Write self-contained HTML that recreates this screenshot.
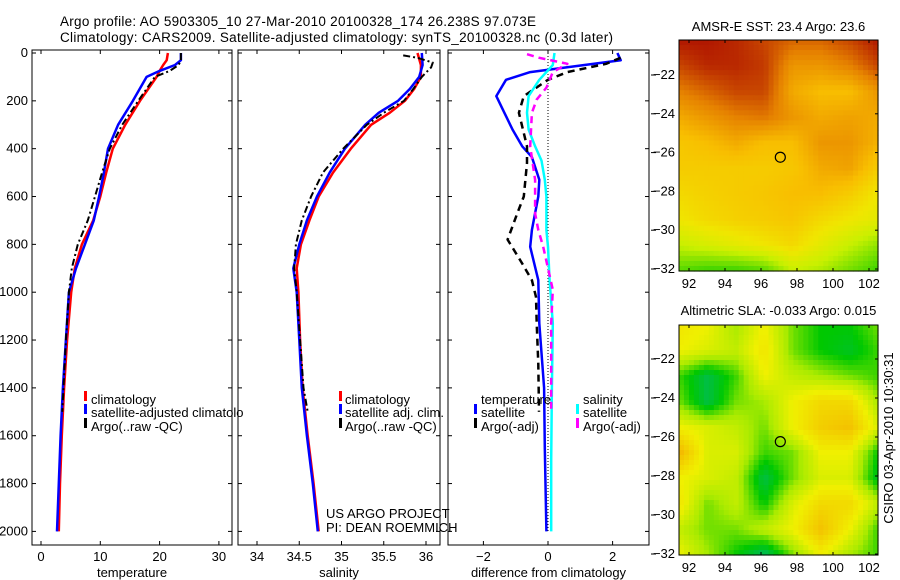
<!DOCTYPE html>
<html><head><meta charset="utf-8"><style>
body{margin:0;background:#fff}
svg{display:block;font-family:"Liberation Sans",sans-serif}
</style></head><body>
<svg id="fig" width="900" height="580" viewBox="0 0 900 580">
<text x="60" y="26" font-size="13.5" textLength="476">Argo profile: AO 5903305_10 27-Mar-2010 20100328_174 26.238S 97.073E</text>
<text x="60" y="42" font-size="13.5" textLength="553">Climatology: CARS2009. Satellite-adjusted climatology: synTS_20100328.nc (0.3d later)</text>
<g id="g"></g>
<text transform="translate(893,438) rotate(-90)" text-anchor="middle" font-size="13">CSIRO 03-Apr-2010 10:30:31</text>
</svg>
<script>
// ---------- data ----------
const depthT = [0,30,50,75,100,200,300,400,500,600,700,800,900,1000,1200,1400,1600,1800,2000];
const tempClim = [21.4,21.2,20.6,20.0,19.5,16.7,14.2,12.1,11.0,10.0,8.8,6.9,5.7,5.1,4.4,3.9,3.5,3.2,3.0];
const tempSat = [23.6,23.6,22.6,20.0,17.8,15.5,13.0,11.3,10.6,9.8,8.9,7.4,5.9,4.7,4.2,3.7,3.3,3.0,2.7];
const depthArgo = [0,30,50,75,100,200,300,400,500,600,700,800,900,1000,1200,1400,1500];
const tempArgo = [23.6,23.6,23.2,21.7,19.2,16.4,13.7,11.6,10.3,9.1,7.9,6.2,5.2,4.7,4.2,3.8,3.6];
const depthS = [0,50,100,150,200,250,300,400,500,600,700,800,900,1000,1200,1400,1600,1800,2000];
const salClim = [35.9,35.94,35.94,35.86,35.75,35.57,35.35,35.11,34.9,34.73,34.62,34.52,34.47,34.49,34.51,34.54,34.6,34.67,34.73];
const salSat = [35.95,35.96,35.92,35.81,35.67,35.44,35.28,35.04,34.86,34.71,34.59,34.5,34.43,34.47,34.5,34.53,34.59,34.66,34.72];
const depthSA = [10,20,40,60,100,150,200,250,300,400,500,600,700,800,900,1000,1200,1400,1500];
const salArgo = [35.73,35.9,36.08,36.06,35.95,35.85,35.74,35.5,35.3,35.02,34.78,34.64,34.53,34.46,34.44,34.47,34.51,34.55,34.6];
const depthD = [0,30,80,112,180,250,320,390,435,530,600,740,810,950,1130,1400,1650,2000];
const diffTSat = [2.15,2.25,-0.55,-1.3,-1.6,-1.35,-1.1,-0.8,-0.5,-0.27,-0.3,-0.5,-0.55,-0.3,-0.27,-0.12,-0.1,-0.05];
const depthDA = [20,45,80,112,180,250,390,460,600,670,780,880,950,1020,1130,1300,1500];
const diffTArgo = [2.25,1.8,0.6,0,-0.75,-0.9,-0.65,-0.65,-0.75,-0.95,-1.25,-0.8,-0.5,-0.37,-0.35,-0.3,-0.28];
const depthDS = [0,50,80,112,180,250,320,390,450,530,600,740,810,950,1130,1400,1700,2000];
const diffSSat = [0.2,0.15,-0.05,-0.27,-0.6,-0.65,-0.6,-0.4,-0.2,-0.1,-0.05,-0.05,0,0.05,0.15,0.12,0.1,0.1];
const depthDSA = [5,20,45,80,145,195,250,390,530,670,740,810,990,1130,1300,1500];
const diffSArgo = [-0.65,-0.27,0.6,0.15,-0.05,-0.35,-0.5,-0.55,-0.4,-0.4,-0.3,-0.15,0.15,0.1,0.1,0.1];
const tempTicks = [0,10,20,30];
const salTicks = [34,34.5,35,35.5,36];
const diffTicks = [-2,0,2];
const depthTicks = [0,200,400,600,800,1000,1200,1400,1600,1800,2000];
const sstGrid = [
[.98,.98,.95,.9,.85,.85,.9,.98],
[.9,.95,.95,.92,.75,.75,.8,.9],
[.8,.85,.9,.9,.7,.65,.65,.75],
[.7,.75,.8,.82,.75,.7,.72,.7],
[.62,.65,.7,.65,.65,.75,.75,.68],
[.6,.6,.6,.6,.62,.7,.72,.6],
[.55,.58,.6,.62,.65,.65,.6,.5],
[.5,.55,.58,.6,.62,.55,.5,.45],
[.35,.4,.45,.5,.55,.45,.35,.25],
[.15,.1,.1,.15,.35,.3,.2,.1]];
const slaGrid = [
[.55,.5,.35,.5,.3,.2,.2,.3],
[.5,.45,.4,.55,.3,.2,.15,.25],
[.25,.1,.25,.5,.4,.35,.3,.25],
[.3,.1,.3,.35,.5,.6,.6,.35],
[.5,.45,.4,.3,.5,.65,.7,.45],
[.75,.45,.45,.25,.3,.5,.5,.2],
[.5,.45,.4,.1,.3,.45,.45,.15],
[.55,.3,.4,.2,.45,.6,.6,.4],
[.4,.3,.3,.4,.5,.7,.5,.25],
[.5,.35,.2,.05,.3,.5,.35,.25]];
const lonTicks = [92,94,96,98,100,102];
const latTicks = [-22,-24,-26,-28,-30,-32];

// ---------- helpers ----------
const NS="http://www.w3.org/2000/svg";
const G=document.getElementById('g');
function mk(tag,attrs,parent){const e=document.createElementNS(NS,tag);for(const k in attrs)e.setAttribute(k,attrs[k]);(parent||G).appendChild(e);return e;}
const yD = d => 53 + d*0.2392;
const xT = v => 41 + v*5.93;
const xS = v => 257 + (v-34)*84.5;
const xDf = v => 548 + v*32.3;
const FS = 13;

function line(xs,ys,xf,col,w,dash,name){
  const pts=xs.map((v,i)=>xf(v).toFixed(1)+','+yD(ys[i]).toFixed(1)).join(' ');
  const p=mk('polyline',{points:pts,fill:'none',stroke:col,'stroke-width':w,'stroke-linejoin':'round'});
  if(dash)p.setAttribute('stroke-dasharray',dash);
  
  
}
function txt(x,y,s,anchor,size,name){
  const t=mk('text',{x:x,y:y,'font-size':size||FS,'text-anchor':anchor||'start'});
  t.textContent=s;
  
  
  return t;
}
function panel(x0,x1,ticks,xf,fmt,label,name,showDepth){
  const r=mk('rect',{x:x0,y:50,width:x1-x0,height:495,fill:'none',stroke:'#000','stroke-width':1});
  
  
  ticks.forEach(v=>{const x=xf(v);
    mk('line',{x1:x,x2:x,y1:545,y2:541,stroke:'#000'});
    mk('line',{x1:x,x2:x,y1:50,y2:54,stroke:'#000'});
    txt(x,561,fmt(v),'middle',FS,name+'-x-tick');});
  depthTicks.forEach(d=>{const y=yD(d);
    mk('line',{x1:x0,x2:x0+4,y1:y,y2:y,stroke:'#000'});
    mk('line',{x1:x1,x2:x1-4,y1:y,y2:y,stroke:'#000'});
    if(showDepth) txt(28,y+4,String(d),'end',FS,'depth-tick-label');});
  txt((x0+x1)/2,577,label,'middle',FS,name+'-x-title');
}
function legMark(x,y,col,name){const r=mk('rect',{x:x,y:y-9,width:3,height:10,fill:col});
  
  }

// ---------- panel 1 ----------
panel(32,232,tempTicks,xT,v=>String(v),'temperature','temperature-panel',true);
line(tempClim,depthT,xT,'#f00',2.5,null,'temperature-climatology-line');
line(tempSat,depthT,xT,'#00f',2.5,null,'temperature-satellite-line');
line(tempArgo,depthArgo,xT,'#000',2,'7,3,2,3','temperature-argo-line');
legMark(84,400,'#f00','legend-climatology-marker');txt(91,404,'climatology','start',FS,'legend-climatology');
legMark(84,413,'#00f','legend-satellite-marker');txt(91,417,'satellite-adjusted climatolo','start',FS,'legend-satellite');
legMark(84,427,'#000','legend-argo-marker');txt(91,431,'Argo(..raw -QC)','start',FS,'legend-argo');

// ---------- panel 2 ----------
panel(238,440,salTicks,xS,v=>String(v),'salinity','salinity-panel',false);
line(salClim,depthS,xS,'#f00',2.5,null,'salinity-climatology-line');
line(salSat,depthS,xS,'#00f',2.5,null,'salinity-satellite-line');
line(salArgo,depthSA,xS,'#000',2,'7,3,2,3','salinity-argo-line');
legMark(339,400,'#f00','legend2-climatology-marker');txt(345,404,'climatology','start',FS,'legend2-climatology');
legMark(339,413,'#00f','legend2-satellite-marker');txt(345,417,'satellite adj. clim.','start',FS,'legend2-satellite');
legMark(339,427,'#000','legend2-argo-marker');txt(345,431,'Argo(..raw -QC)','start',FS,'legend2-argo');
txt(326,518,'US ARGO PROJECT','start',FS,'project-credit');
txt(326,532,'PI: DEAN ROEMMICH','start',FS,'pi-credit');

// ---------- panel 3 ----------
panel(448,649,diffTicks,xDf,v=>v<0?'\u2212'+(-v):String(v),'difference from climatology','difference-panel',false);
mk('line',{x1:xDf(0),x2:xDf(0),y1:53,y2:yD(2000),stroke:'#000','stroke-dasharray':'1,2'});
line(diffTSat,depthD,xDf,'#00f',2.5,null,'diff-temperature-satellite-line');
line(diffTArgo,depthDA,xDf,'#000',2.5,'7,5','diff-temperature-argo-line');
line(diffSSat,depthDS,xDf,'#0ff',2.5,null,'diff-salinity-satellite-line');
line(diffSArgo,depthDSA,xDf,'#f0f',2.5,'7,5','diff-salinity-argo-line');
txt(481,404,'temperature','start',FS,'legend3-temperature-heading');
txt(583,404,'salinity','start',FS,'legend3-salinity-heading');
legMark(474,413,'#00f','legend3-temp-satellite-marker');txt(481,417,'satellite','start',FS,'legend3-temp-satellite');
legMark(474,427,'#000','legend3-temp-argo-marker');txt(481,431,'Argo(-adj)','start',FS,'legend3-temp-argo');
legMark(576,413,'#0ff','legend3-sal-satellite-marker');txt(583,417,'satellite','start',FS,'legend3-sal-satellite');
legMark(576,427,'#f0f','legend3-sal-argo-marker');txt(583,431,'Argo(-adj)','start',FS,'legend3-sal-argo');

// ---------- maps ----------
function lerpC(stops,v){for(let i=1;i<stops.length;i++){if(v<=stops[i][0]){const a=stops[i-1],b=stops[i],t=(v-a[0])/(b[0]-a[0]);
  return 'rgb('+[1,2,3].map(k=>Math.round(a[k]+(b[k]-a[k])*t)).join(',')+')';}}const l=stops[stops.length-1];return 'rgb('+l[1]+','+l[2]+','+l[3]+')';}
const sstStops=[[0,0,200,0],[0.35,200,240,0],[0.5,240,230,0],[0.65,248,190,0],[0.8,230,130,0],[1,170,10,0]];
const slaStops=[[0,0,180,140],[0.2,0,200,0],[0.35,170,235,0],[0.5,240,240,0],[0.8,245,170,0],[1,230,100,0]];
function map(x0,y0,w,h,grid,stops,title,ty,name,latTop,latBot){
  const nx=40,ny=46,R=grid.length,C=grid[0].length;
  const cw=w/nx,ch=h/ny;
  const gm=mk('g',{});
  
  
  for(let j=0;j<ny;j++)for(let i=0;i<nx;i++){
    const fx=(i+0.5)/nx*(C-1),fy=(j+0.5)/ny*(R-1);
    const ix=Math.min(Math.floor(fx),C-2),iy=Math.min(Math.floor(fy),R-2),tx=fx-ix,ty2=fy-iy;
    const v=grid[iy][ix]*(1-tx)*(1-ty2)+grid[iy][ix+1]*tx*(1-ty2)+grid[iy+1][ix]*(1-tx)*ty2+grid[iy+1][ix+1]*tx*ty2;
    mk('rect',{x:(x0+i*cw).toFixed(2),y:(y0+j*ch).toFixed(2),width:(cw+0.6).toFixed(2),height:(ch+0.6).toFixed(2),fill:lerpC(stops,v)},gm);
  }
  const f=mk('rect',{x:x0,y:y0,width:w,height:h,fill:'none',stroke:'#000'});
  
  
  const xL=v=>x0+10+(v-92)*18, yL=v=>latTop+(-22-v)*(latBot-latTop)/10;
  lonTicks.forEach(v=>{const x=xL(v);mk('line',{x1:x,x2:x,y1:y0+h,y2:y0+h-3,stroke:'#000'});mk('line',{x1:x,x2:x,y1:y0,y2:y0+3,stroke:'#000'});
    txt(x,y0+h+17,String(v),'middle',FS,name+'-lon-tick');});
  latTicks.forEach(v=>{const y=yL(v);mk('line',{x1:x0+w,x2:x0+w-3,y1:y,y2:y,stroke:'#000'});mk('line',{x1:651,x2:656,y1:y,y2:y,stroke:'#000'});
    txt(675,y+4,'\u2212'+(-v),'end',FS,name+'-lat-tick');});
  const c=mk('circle',{cx:xL(97.073),cy:yL(-26.238),r:5,fill:'none',stroke:'#000','stroke-width':1.2});
  
  
  txt(x0+w/2,ty,title,'middle',FS,name+'-title');
}
map(679,40,199,231,sstGrid,sstStops,'AMSR-E SST: 23.4 Argo: 23.6',31,'sst-map',75,269);
map(679,325,199,230,slaGrid,slaStops,'Altimetric SLA: -0.033 Argo: 0.015',315,'sla-map',359,554);
</script>
</body></html>
